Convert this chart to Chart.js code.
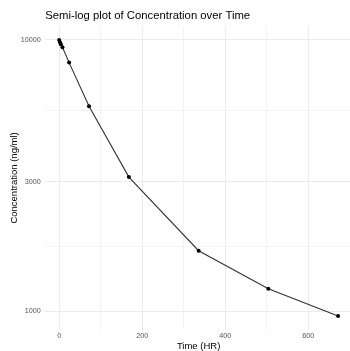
<!DOCTYPE html>
<html>
<head>
<meta charset="utf-8">
<script src="https://cdn.jsdelivr.net/npm/chart.js@4"></script>
<style>
  html, body { margin: 0; padding: 0; background: #fff; overflow: hidden; }
  #wrap { width: 356px; height: 351px; }
</style>
</head>
<body>
<div id="wrap"><canvas id="semiLog" width="356" height="351"></canvas></div>
<script>
// time points (hr) and measured concentration (ng/ml)
let times = [0, 2, 4, 8, 24, 72, 168, 336, 504, 672]
let conc = [10000, 9800, 9650, 9400, 8250, 5700, 3120, 1670, 1210, 960]
let yBreaks = [1000, 3000, 10000]
let xBreaks = [0, 200, 400, 600]

let font = "'Liberation Sans', Arial, sans-serif"
let gridCol = '#ebebeb'

// ggplot-like 5% expansion of both ranges
let xSpan = Math.max(...times) - Math.min(...times)
let xMin = Math.min(...times) - 0.05 * xSpan
let xMax = Math.max(...times) + 0.05 * xSpan
let lMin = Math.log10(Math.min(...conc)), lMax = Math.log10(Math.max(...conc))
let yMin = Math.pow(10, lMin - 0.05 * (lMax - lMin))
let yMax = Math.pow(10, lMax + 0.05 * (lMax - lMin))

// minor y lines sit halfway (in log space) between the breaks
let yTicks = []
yBreaks.forEach((b, i) => {
    yTicks.push(b)
    if (i < yBreaks.length - 1) yTicks.push(Math.sqrt(b * yBreaks[i + 1]))
})
let xTicks = []
for (let t = 0; t <= 600; t += 100) xTicks.push(t)

let ctx = document.getElementById('semiLog').getContext('2d')
let chart = new Chart(ctx, {
    type: 'line',
    data: {
        datasets: [{
            data: times.map((t, i) => ({ x: t, y: conc[i] })),
            borderColor: '#333333',
            borderWidth: 1.1,
            pointRadius: 2,
            pointBackgroundColor: '#000',
            pointBorderWidth: 0,
            tension: 0
        }]
    },
    options: {
        responsive: false,
        animation: false,
        layout: { padding: 0 },
        plugins: {
            legend: { display: false },
            tooltip: { enabled: false },
            title: {
                display: true,
                text: 'Semi-log plot of Concentration over Time',
                align: 'start',
                fullSize: false,
                color: '#000',
                font: { family: font, size: 11.3, weight: 'normal', lineHeight: 1.2 },
                padding: { top: 9.2, bottom: 3.4 }
            }
        },
        scales: {
            x: {
                type: 'linear',
                min: xMin,
                max: xMax,
                afterBuildTicks: s => { s.ticks = xTicks.map(v => ({ value: v })) },
                afterFit: s => { s.height = 21.3 },
                border: { display: false },
                grid: {
                    drawTicks: false,
                    color: gridCol,
                    lineWidth: c => xBreaks.includes(c.tick && c.tick.value) ? 1 : 0.6
                },
                ticks: {
                    autoSkip: false,
                    maxRotation: 0,
                    padding: 2,
                    color: '#555',
                    font: { family: font, size: 7.2 },
                    callback: v => xBreaks.includes(v) ? String(v) : ''
                },
                title: {
                    display: true,
                    text: 'Time (HR)',
                    color: '#000',
                    padding: { top: 0, bottom: 0 },
                    font: { family: font, size: 9.5, lineHeight: 1 }
                }
            },
            y: {
                type: 'logarithmic',
                min: yMin,
                max: yMax,
                afterBuildTicks: s => { s.ticks = yTicks.map(v => ({ value: v })) },
                afterFit: s => { s.width = 45.2 },
                border: { display: false },
                grid: {
                    drawTicks: false,
                    color: gridCol,
                    lineWidth: c => yBreaks.includes(c.tick && c.tick.value) ? 1 : 0.6
                },
                ticks: {
                    autoSkip: false,
                    padding: 4.5,
                    color: '#555',
                    font: { family: font, size: 7.2 },
                    callback: v => yBreaks.includes(v) ? String(v) : ''
                },
                title: {
                    display: true,
                    text: 'Concentration (ng/ml)',
                    color: '#000',
                    padding: { top: 9, bottom: 0 },
                    font: { family: font, size: 9.5, lineHeight: 1.2 }
                }
            }
        }
    }
})
</script>
</body>
</html>
